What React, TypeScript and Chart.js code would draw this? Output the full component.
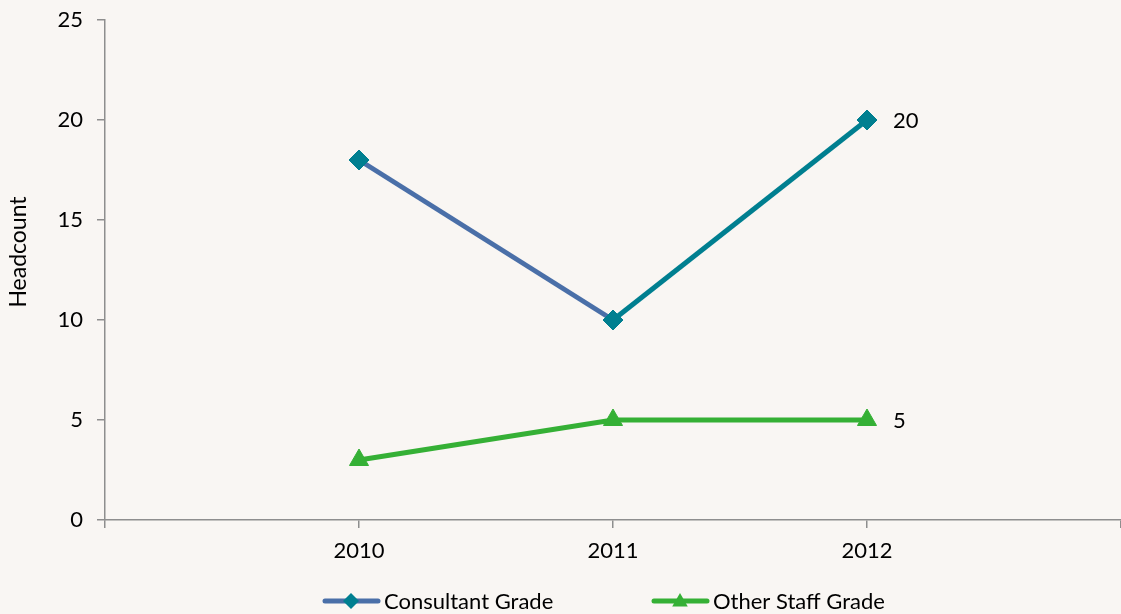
import React, { useEffect, useRef } from "react";
import { Chart, registerables } from "chart.js";

Chart.register(...registerables);

const years = [2010, 2011, 2012];
const consultant = [18, 10, 20];
const otherStaff = [3, 5, 5];
const yTicks = [0, 5, 10, 15, 20, 25];
const seriesNames = ["Consultant Grade", "Other Staff Grade"];
const yTitle = "Headcount";

const FONT = "Lato, 'Liberation Sans', sans-serif";
const BLUE = "#4a6fa8";
const TEAL = "#007f90";
const GREEN = "#35b035";
const AXIS = "#8e8e8e";

function drawMarker(ctx: CanvasRenderingContext2D, style: string, r: number, x: number, y: number) {
  ctx.beginPath();
  if (style === "rectRot") {
    ctx.moveTo(x, y - r);
    ctx.lineTo(x + r, y);
    ctx.lineTo(x, y + r);
    ctx.lineTo(x - r, y);
  } else {
    ctx.moveTo(x, y - r);
    ctx.lineTo(x + r * 0.866, y + r * 0.5);
    ctx.lineTo(x - r * 0.866, y + r * 0.5);
  }
  ctx.closePath();
  ctx.fill();
}

const lastLabelPlugin = {
  id: "lastLabels",
  afterDatasetsDraw(chart: any) {
    const ctx = chart.ctx;
    ctx.save();
    ctx.font = `22px ${FONT}`;
    ctx.fillStyle = "#000";
    ctx.textBaseline = "middle";
    ctx.textAlign = "left";
    chart.data.datasets.forEach((ds: any, i: number) => {
      const meta = chart.getDatasetMeta(i);
      const pt = meta.data[meta.data.length - 1];
      const v = ds.data[ds.data.length - 1];
      ctx.fillText(String(v.y), pt.x + 26, pt.y + 1);
    });
    ctx.restore();
  },
};

const legendPlugin = {
  id: "customLegend",
  afterDraw(chart: any) {
    const ctx = chart.ctx;
    ctx.save();
    ctx.translate(19, 252);
    ctx.rotate(-Math.PI / 2);
    ctx.font = `23px ${FONT}`;
    ctx.fillStyle = "#000";
    ctx.textAlign = "center";
    ctx.textBaseline = "middle";
    ctx.fillText(yTitle, 0, 0);
    ctx.restore();

    ctx.save();
    const y = 601;
    const items = [
      { x: 323, line: BLUE, marker: TEAL, style: "rectRot", r: 8 },
      { x: 652, line: GREEN, marker: GREEN, style: "triangle", r: 9 },
    ];
    items.forEach((it, i) => {
      ctx.strokeStyle = it.line;
      ctx.lineWidth = 5;
      ctx.lineCap = "round";
      ctx.beginPath();
      ctx.moveTo(it.x + 2, y);
      ctx.lineTo(it.x + 55, y);
      ctx.stroke();
      ctx.fillStyle = it.marker;
      drawMarker(ctx, it.style, it.r, it.x + 28, y + (it.style === "triangle" ? 1 : 0));
      ctx.fillStyle = "#000";
      ctx.font = `22px ${FONT}`;
      ctx.textBaseline = "middle";
      ctx.textAlign = "left";
      ctx.fillText(seriesNames[i], it.x + 61, y + 1);
    });
    ctx.restore();
  },
};

export default function App() {
  const ref = useRef<HTMLCanvasElement>(null);
  useEffect(() => {
    document.body.style.margin = "0";
    document.body.style.background = "#f9f6f3";
    const chart = new Chart(ref.current!, {
      type: "line",
      data: {
        datasets: [
          {
            label: seriesNames[0],
            data: years.map((y, i) => ({ x: y, y: consultant[i] })),
            borderColor: BLUE,
            borderWidth: 5,
            pointStyle: "rectRot",
            pointRadius: 10,
            pointBackgroundColor: TEAL,
            pointBorderColor: TEAL,
            pointBorderWidth: 1,
            segment: {
              borderColor: (c: any) => (c.p0DataIndex === 1 ? TEAL : BLUE),
            },
          },
          {
            label: seriesNames[1],
            data: years.map((y, i) => ({ x: y, y: otherStaff[i] })),
            borderColor: GREEN,
            borderWidth: 5,
            pointStyle: "triangle",
            pointRadius: 11,
            pointBackgroundColor: GREEN,
            pointBorderColor: GREEN,
            pointBorderWidth: 1,
          },
        ],
      },
      options: {
        animation: false,
        responsive: false,
        layout: { padding: { top: 20, left: 0, right: 0, bottom: 0 } },
        plugins: {
          legend: { display: false },
          tooltip: { enabled: false },
        },
        scales: {
          x: {
            type: "linear",
            min: years[0] - 1,
            max: years[years.length - 1] + 1,
            ticks: {
              stepSize: 1,
              autoSkip: false,
              padding: 10,
              color: "#000",
              font: { family: FONT, size: 22 },
              callback: (v: any) => (years.includes(Number(v)) ? String(v) : ""),
            },
            grid: { drawOnChartArea: false, drawTicks: true, tickLength: 8, color: AXIS, lineWidth: 1.5 },
            border: { color: AXIS, width: 1.5 },
            afterFit: (s: any) => {
              s.height = 94;
              s.paddingLeft = 0;
              s.paddingRight = 0;
            },
          },
          y: {
            min: 0,
            max: 25,
            afterBuildTicks: (s: any) => {
              s.ticks = yTicks.map((v) => ({ value: v }));
            },
            ticks: {
              padding: 14,
              color: "#000",
              font: { family: FONT, size: 22 },
            },
            grid: { drawOnChartArea: false, drawTicks: true, tickLength: 8, color: AXIS, lineWidth: 1.5 },
            border: { color: AXIS, width: 1.5 },
            afterFit: (s: any) => {
              s.width = 105;
              s.paddingTop = 0;
              s.paddingBottom = 0;
            },
          },
        },
      },
      plugins: [lastLabelPlugin, legendPlugin],
    } as any);
    return () => chart.destroy();
  }, []);
  return (
    <div
      style={{
        position: "fixed",
        left: 0,
        top: 0,
        width: 1121,
        height: 614,
        overflow: "hidden",
        background: "#f9f6f3",
      }}
    >
      <canvas ref={ref} width={1133} height={614} style={{ display: "block" }} />
    </div>
  );
}
